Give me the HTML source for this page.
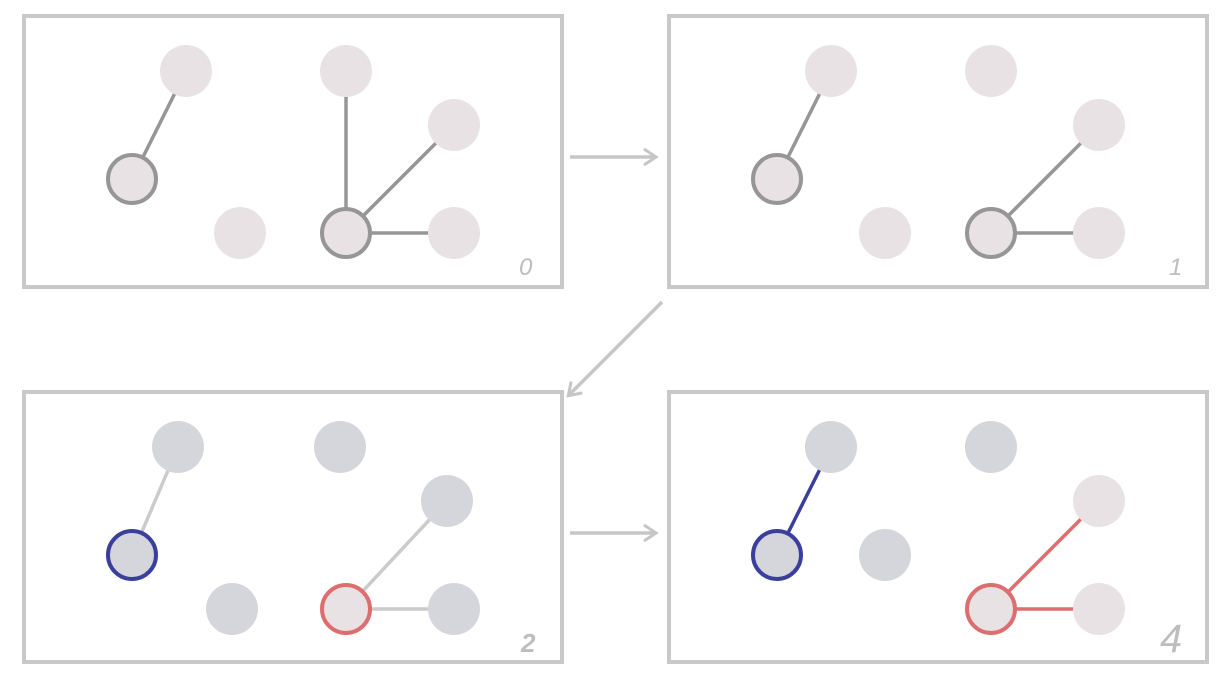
<!DOCTYPE html>
<html><head><style>html,body{margin:0;padding:0;background:#fff}svg{display:block}</style></head>
<body>
<svg width="1232" height="686" viewBox="0 0 1232 686" xmlns="http://www.w3.org/2000/svg">
<defs>
<marker id="ah" markerWidth="16" markerHeight="18" refX="12" refY="9" orient="auto" markerUnits="userSpaceOnUse"><path d="M1,1 L13,9 L1,17" fill="none" stroke="#c6c6c6" stroke-width="3"/></marker>
</defs>
<g fill="none" stroke="#c8c8c8" stroke-width="4">
<rect x="24" y="16" width="538" height="271"/>
<rect x="669" y="16" width="538" height="271"/>
<rect x="24" y="392" width="538" height="270"/>
<rect x="669" y="392" width="538" height="270"/>
</g>
<g stroke="#c6c6c6" stroke-width="3.5" marker-end="url(#ah)">
<line x1="570" y1="157" x2="655" y2="157"/>
<line x1="662" y1="302" x2="569" y2="395"/>
<line x1="570" y1="533" x2="655" y2="533"/>
</g>
<!-- panel 0 -->
<g stroke="#969696" stroke-width="3.5">
<line x1="132" y1="179" x2="186" y2="71"/>
<line x1="346" y1="71" x2="346" y2="233"/>
<line x1="346" y1="233" x2="454" y2="125"/>
<line x1="346" y1="233" x2="454" y2="233"/>
</g>
<g fill="#e8e2e4">
<circle cx="186" cy="71" r="26"/><circle cx="346" cy="71" r="26"/><circle cx="454" cy="125" r="26"/>
<circle cx="240" cy="233" r="26"/><circle cx="454" cy="233" r="26"/>
<circle cx="132" cy="179" r="24" stroke="#969696" stroke-width="4"/>
<circle cx="346" cy="233" r="24" stroke="#969696" stroke-width="4"/>
</g>
<!-- panel 1 -->
<g stroke="#969696" stroke-width="3.5">
<line x1="777" y1="179" x2="831" y2="71"/>
<line x1="991" y1="233" x2="1099" y2="125"/>
<line x1="991" y1="233" x2="1099" y2="233"/>
</g>
<g fill="#e8e2e4">
<circle cx="831" cy="71" r="26"/><circle cx="991" cy="71" r="26"/><circle cx="1099" cy="125" r="26"/>
<circle cx="885" cy="233" r="26"/><circle cx="1099" cy="233" r="26"/>
<circle cx="777" cy="179" r="24" stroke="#969696" stroke-width="4"/>
<circle cx="991" cy="233" r="24" stroke="#969696" stroke-width="4"/>
</g>
<!-- panel 2 -->
<g stroke="#cbcbcb" stroke-width="3.5">
<line x1="132" y1="555" x2="178" y2="447"/>
<line x1="346" y1="609" x2="447" y2="501"/>
<line x1="346" y1="609" x2="454" y2="609"/>
</g>
<g fill="#d5d6db">
<circle cx="178" cy="447" r="26"/><circle cx="340" cy="447" r="26"/><circle cx="447" cy="501" r="26"/>
<circle cx="232" cy="609" r="26"/><circle cx="454" cy="609" r="26"/>
<circle cx="132" cy="555" r="24" stroke="#3a3f9c" stroke-width="4"/>
<circle cx="346" cy="609" r="24" fill="#e8e2e4" stroke="#dc6e70" stroke-width="4"/>
</g>
<!-- panel 3 -->
<line x1="777" y1="555" x2="831" y2="447" stroke="#3a3f9c" stroke-width="3.5"/>
<g stroke="#dc6e70" stroke-width="3.5">
<line x1="991" y1="609" x2="1099" y2="501"/>
<line x1="991" y1="609" x2="1099" y2="609"/>
</g>
<g fill="#d5d6db">
<circle cx="831" cy="447" r="26"/><circle cx="991" cy="447" r="26"/><circle cx="885" cy="555" r="26"/>
<circle cx="1099" cy="501" r="26" fill="#e8e2e4"/><circle cx="1099" cy="609" r="26" fill="#e8e2e4"/>
<circle cx="777" cy="555" r="24" stroke="#3a3f9c" stroke-width="4"/>
<circle cx="991" cy="609" r="24" fill="#e8e2e4" stroke="#dc6e70" stroke-width="4"/>
</g>
<g fill="#bdbdbd" font-family="Liberation Sans, sans-serif" font-style="italic">
<text x="519" y="275" font-size="24">0</text>
<text x="1169" y="275" font-size="24">1</text>
<text x="521" y="652" font-size="26" font-weight="bold">2</text>
<text x="1160" y="652" font-size="40">4</text>
</g>
</svg>
</body></html>
